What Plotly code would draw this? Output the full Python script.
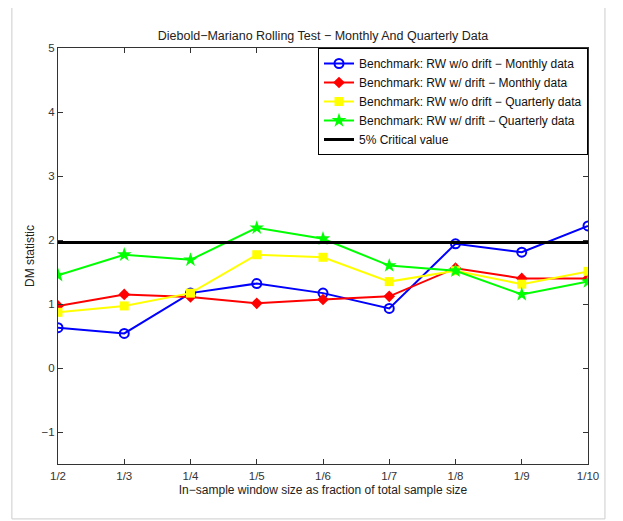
import plotly.graph_objects as go

categories = ["1/2", "1/3", "1/4", "1/5", "1/6", "1/7", "1/8", "1/9", "1/10"]
rw_nodrift_monthly = [0.63, 0.54, 1.17, 1.32, 1.17, 0.93, 1.94, 1.81, 2.22]
rw_drift_monthly = [0.97, 1.15, 1.11, 1.01, 1.07, 1.12, 1.56, 1.40, 1.40]
rw_nodrift_quarterly = [0.87, 0.97, 1.17, 1.77, 1.73, 1.35, 1.52, 1.31, 1.51]
rw_drift_quarterly = [1.45, 1.77, 1.69, 2.19, 2.02, 1.60, 1.52, 1.15, 1.35]
critical_value = 1.96
y_ticks = [-1, 0, 1, 2, 3, 4, 5]

xpos = list(range(len(categories)))

fig = go.Figure()
fig.add_trace(go.Scatter(x=xpos, y=rw_nodrift_monthly, mode="lines+markers",
                         name="Benchmark: RW w/o drift \u2212 Monthly data",
                         line=dict(color="#0000ff", width=2),
                         marker=dict(symbol="circle-open", size=9, color="#0000ff", line=dict(width=2))))
fig.add_trace(go.Scatter(x=xpos, y=rw_drift_monthly, mode="lines+markers",
                         name="Benchmark: RW w/ drift \u2212 Monthly data",
                         line=dict(color="#ff0000", width=2),
                         marker=dict(symbol="diamond", size=9, color="#ff0000")))
fig.add_trace(go.Scatter(x=xpos, y=rw_nodrift_quarterly, mode="lines+markers",
                         name="Benchmark: RW w/o drift \u2212 Quarterly data",
                         line=dict(color="#ffff00", width=2),
                         marker=dict(symbol="square", size=9, color="#ffff00")))
fig.add_trace(go.Scatter(x=xpos, y=rw_drift_quarterly, mode="lines+markers",
                         name="Benchmark: RW w/ drift \u2212 Quarterly data",
                         line=dict(color="#00ff00", width=2),
                         marker=dict(symbol="star", size=11, color="#00ff00")))
fig.add_trace(go.Scatter(x=[xpos[0], xpos[-1]], y=[critical_value, critical_value], mode="lines",
                         name="5% Critical value",
                         line=dict(color="#000000", width=3)))

axis_common = dict(showgrid=False, zeroline=False, showline=True, linecolor="#333333",
                   linewidth=1, mirror="ticks", ticks="inside", ticklen=5, tickcolor="#333333",
                   tickfont=dict(size=11.5, color="#333333"), automargin=False)

fig.update_xaxes(range=[0, 8], tickvals=xpos, ticktext=categories,
                 title=dict(text="In\u2212sample window size as fraction of total sample size",
                            font=dict(size=12, color="#222222"), standoff=4),
                 ticklabelstandoff=1,
                 **axis_common)
fig.update_yaxes(range=[-1.5, 5], tickvals=y_ticks, ticktext=["\u22121", "0", "1", "2", "3", "4", "5"],
                 title=dict(text="DM statistic", font=dict(size=12, color="#222222"), standoff=4),
                 **axis_common)

fig.add_shape(type="rect", xref="paper", yref="paper", x0=-0.087, x1=1.032, y0=-0.132, y1=1.106,
              line=dict(color="#cccccc", width=1), layer="below")

fig.update_layout(
    width=615, height=513,
    margin=dict(l=50, r=35, t=40, b=57),
    paper_bgcolor="white", plot_bgcolor="white",
    font=dict(family="Liberation Sans, Arial, sans-serif", size=12, color="#222222"),
    title=dict(text="Diebold\u2212Mariano Rolling Test \u2212 Monthly And Quarterly Data",
               x=0.5, xref="paper", xanchor="center", y=1, yref="paper", yanchor="bottom",
               pad=dict(b=8), font=dict(size=12.5, color="#222222")),
    legend=dict(x=1, y=1, xanchor="right", yanchor="top", bgcolor="white",
                bordercolor="#000000", borderwidth=1, font=dict(size=12, color="#111111"),
                tracegroupgap=0, itemsizing="trace"),
    showlegend=True,
)

fig.write_html("out.html")
